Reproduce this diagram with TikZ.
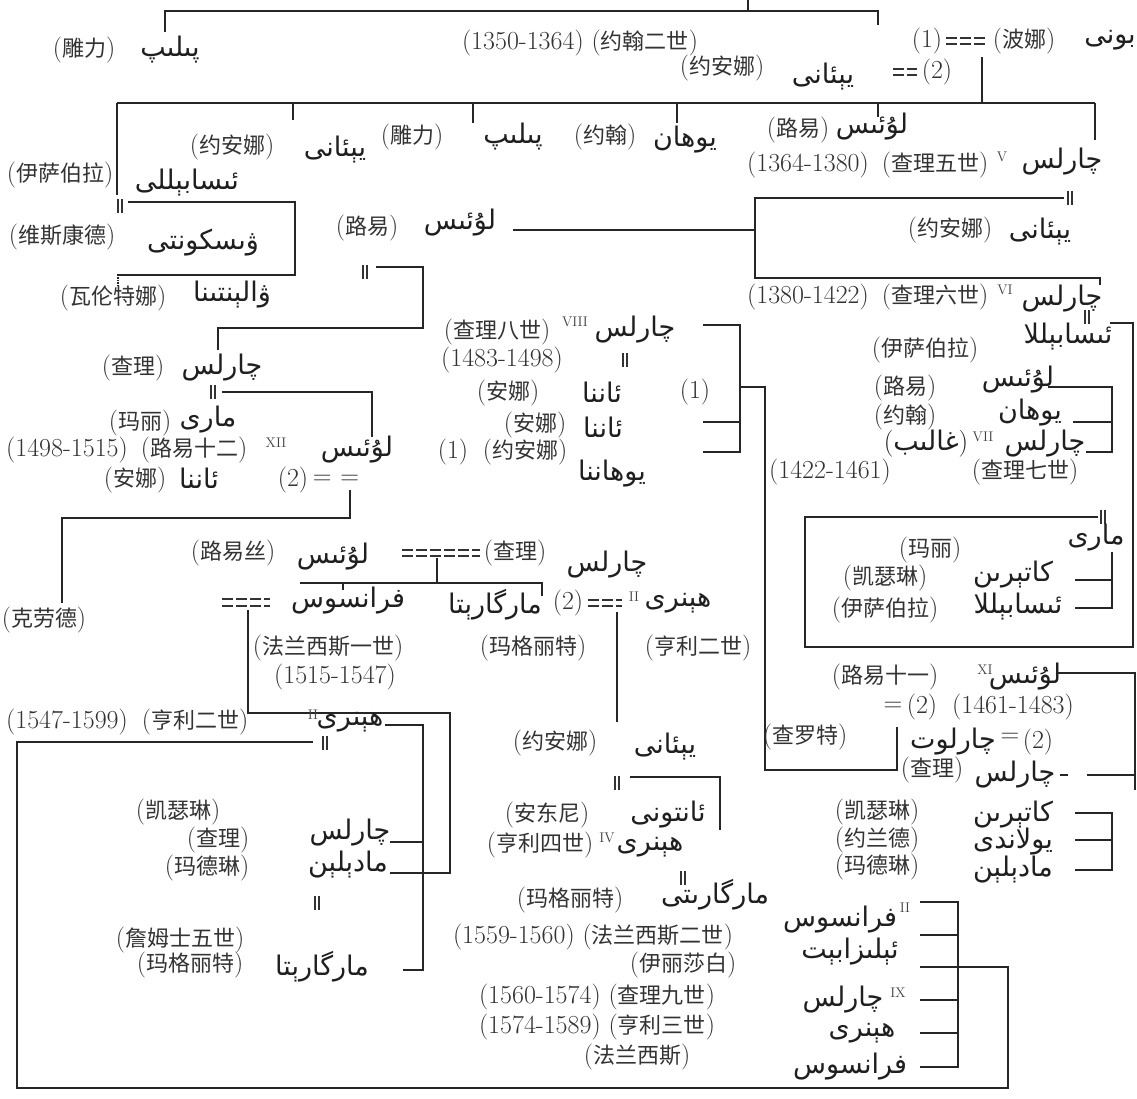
\documentclass[tikz,border=0pt]{standalone}
\usepackage{fontspec}
\newfontfamily\cjkf{Noto Sans CJK SC}
\newfontfamily\arf[Script=Arabic]{DejaVu Sans}
\TeXXeTstate=1
\newcommand\C[1]{{\cjkf\fontsize{22}{26}\selectfont #1}}
\newcommand\U[1]{{\arf\beginR #1\endR}}
\tikzset{
  zh/.style={font=\fontsize{26}{28}\selectfont, text=black!80, inner sep=0pt},
  ug/.style={font=\fontsize{27}{30}\selectfont, text=black!88, inner sep=0pt},
  rn/.style={font=\fontsize{14}{15}\selectfont, text=black!75, inner sep=0pt},
  ln/.style={line width=1.4pt, black!85},
  dbl/.style={line width=1.3pt, black!80, dash pattern=on 11pt off 3pt},
  mar/.pic={\draw[line width=1.1pt,black!80] (-2,-7)--(-2,7) (2,-7)--(2,7);}
}
\begin{document}
\begin{tikzpicture}[x=1pt,y=-1pt]
\useasboundingbox (0,0) rectangle (1137,1099);
\fill[white] (0,0) rectangle (1137,1099);
% ---------- top: John II ----------
\draw[ln] (748,0)--(748,11);
\draw[ln] (165,32)--(165,11)--(878,11)--(878,25);
\node[zh] (diao1) at (84,50) {(\C{雕力})};
\node[ug] (pilip1) at (170,50) {\U{پىلىپ}};
\node[zh] (john2) at (580,43) {(1350-1364) (\C{约翰二世})};
\node[zh] (one1) at (927,41) {(1)};
\draw[dbl] (946,38)--(986,38) (946,44)--(986,44);
\node[zh] (bona) at (1024,41) {(\C{波娜})};
\node[ug] (bonne) at (1110,40) {\U{بونى}};
\node[zh] (yan1) at (722,68) {(\C{约安娜})};
\node[ug] (jeanne1) at (823,77) {\U{يېئانى}};
\draw[dbl] (893,69)--(917,69) (893,75)--(917,75);
\node[zh] (two1) at (937,72) {(2)};
\draw[ln] (982,57)--(982,103);
\draw[ln] (117,103)--(1095,103);
\draw[ln] (293,103)--(293,120) (473,103)--(473,123) (677,103)--(677,123) (878,103)--(878,117) (1095,103)--(1095,140);
% ---------- children of John II ----------
\node[zh] (yan2) at (232,147) {(\C{约安娜})};
\node[ug] (jeanne2) at (335,150) {\U{يېئانى}};
\node[zh] (diao2) at (412,137) {(\C{雕力})};
\node[ug] (pilip2) at (513,137) {\U{پىلىپ}};
\node[zh] (yuehan1) at (605,137) {(\C{约翰})};
\node[ug] (yohan1) at (685,140) {\U{يوھان}};
\node[zh] (luyi1) at (798,130) {(\C{路易})};
\node[ug] (louis1) at (872,127) {\U{لۇئىس}};
\node[zh] (d5) at (808,165) {(1364-1380)};
\node[zh] (cl5) at (935,165) {(\C{查理五世})};
\node[rn] (r5) at (1002,157) {V};
\node[ug] (charles5) at (1062,162) {\U{چارلس}};
% ---------- Isabelle / Visconti ----------
\draw[ln] (117,103)--(117,195);
\node[zh] (isa1) at (60,175) {(\C{伊萨伯拉})};
\node[ug] (isab1) at (187,183) {\U{ئىسابېللى}};
\pic at (120,206) {mar};
\draw[ln] (128,202)--(295,202)--(295,275)--(117,275);
\draw[ln, densely dotted] (118,275)--(118,286);
\node[zh] (vis1) at (62,237) {(\C{维斯康德})};
\node[ug] (vis2) at (203,243) {\U{ۋىسكونتى}};
\node[zh] (val1) at (113,298) {(\C{瓦伦特娜})};
\node[ug] (val2) at (232,295) {\U{ۋالېنتىنا}};
% ---------- Louis d'Orleans ----------
\node[zh] (luyi2) at (367,228) {(\C{路易})};
\node[ug] (louis2) at (460,223) {\U{لۇئىس}};
\draw[ln] (513,230)--(755,230);
\pic at (365,272) {mar};
\draw[ln] (376,267)--(423,267)--(423,328)--(218,328)--(218,350);
% ---------- Charles V marriage ----------
\pic at (1070,198) {mar};
\draw[ln] (1064,198)--(755,198)--(755,278)--(1100,278)--(1100,285);
\node[zh] (yan3) at (950,230) {(\C{约安娜})};
\node[ug] (jeanne3) at (1040,232) {\U{يېئانى}};
% ---------- Charles VI ----------
\node[zh] (d6) at (808,297) {(1380-1422)};
\node[zh] (cl6) at (935,297) {(\C{查理六世})};
\node[rn] (r6) at (1005,290) {VI};
\node[ug] (charles6) at (1062,299) {\U{چارلس}};
\pic at (1087,317) {mar};
\node[ug] (isab2) at (1068,337) {\U{ئىسابېللا}};
\draw[ln] (1110,323)--(1133,323)--(1133,647)--(805,647)--(805,517)--(1098,517);
\node[zh] (isa2) at (925,350) {(\C{伊萨伯拉})};
\node[zh] (luyi3) at (905,388) {(\C{路易})};
\node[ug] (louis3) at (1018,380) {\U{لۇئىس}};
\node[zh] (yuehan2) at (905,417) {(\C{约翰})};
\node[ug] (yohan2) at (1030,413) {\U{يوھان}};
\node[ug] (ghalib) at (926,444) {(\U{غالىب})};
\node[rn] (r7) at (983,437) {VII};
\node[ug] (charles7) at (1045,444) {\U{چارلس}};
\draw[ln] (1048,387)--(1112,387)--(1112,452)--(1086,452) (1073,422)--(1112,422);
\node[zh] (d7) at (830,472) {(1422-1461)};
\node[zh] (cl7) at (1025,472) {(\C{查理七世})};
\pic at (1103,517) {mar};
\node[ug] (marie1) at (1096,538) {\U{مارى}};
\node[zh] (mali1) at (930,550) {(\C{玛丽})};
\node[zh] (kai1) at (885,578) {(\C{凯瑟琳})};
\node[ug] (kat1) at (1013,575) {\U{كاتېرىن}};
\node[zh] (isa3) at (885,610) {(\C{伊萨伯拉})};
\node[ug] (isab3) at (1018,607) {\U{ئىسابېللا}};
\draw[ln] (1112,552)--(1112,608)--(1075,608) (1075,580)--(1112,580);
% ---------- Louis XI ----------
\node[zh] (luyi11) at (885,677) {(\C{路易十一})};
\node[rn] (r11) at (985,670) {XI};
\node[ug] (louis11) at (1025,677) {\U{لۇئىس}};
\draw[ln] (1057,673)--(1135,673)--(1135,790);
\node[zh] (eq1) at (893,707) {=};
\node[zh] (two2) at (922,707) {(2)};
\node[zh] (d11) at (1013,707) {(1461-1483)};
\node[zh] (chaluo) at (805,737) {(\C{查罗特})};
\node[ug] (charlotte) at (953,742) {\U{چارلوت}};
\node[zh] (eq2) at (1010,738) {=};
\node[zh] (two3) at (1038,742) {(2)};
\draw[ln] (740,387)--(765,387)--(765,770)--(897,770)--(897,727);
\node[zh] (chali2) at (932,770) {(\C{查理})};
\node[ug] (charles8b) at (1015,775) {\U{چارلس}};
\draw[ln] (1060,775)--(1068,775) (1087,775)--(1135,775);
\node[zh] (kai2) at (877,812) {(\C{凯瑟琳})};
\node[ug] (kat2) at (1013,815) {\U{كاتېرىن}};
\node[zh] (yuelan) at (877,840) {(\C{约兰德})};
\node[ug] (yol) at (1013,842) {\U{يولاندى}};
\node[zh] (made1) at (877,867) {(\C{玛德琳})};
\node[ug] (mad1) at (1013,870) {\U{مادېلېن}};
\draw[ln] (1075,813)--(1112,813)--(1112,870)--(1075,870) (1075,840)--(1112,840);
% ---------- Charles VIII ----------
\node[zh] (cl8) at (497,332) {(\C{查理八世})};
\node[rn] (r8) at (575,322) {VIII};
\node[ug] (charles8) at (635,330) {\U{چارلس}};
\node[zh] (d8) at (502,360) {(1483-1498)};
\pic at (625,360) {mar};
\node[zh] (anna1) at (508,393) {(\C{安娜})};
\node[ug] (anne1) at (602,392) {\U{ئاننا}};
\node[zh] (anna2) at (535,425) {(\C{安娜})};
\node[ug] (anne2) at (603,427) {\U{ئاننا}};
\node[zh] (one2) at (453,452) {(1)};
\node[zh] (yan4) at (525,452) {(\C{约安娜})};
\node[ug] (johanna) at (612,474) {\U{يوھاننا}};
\node[zh] (one3) at (695,392) {(1)};
\draw[ln] (703,325)--(740,325)--(740,452)--(703,452) (703,422)--(740,422);
% ---------- Louis XII ----------
\node[zh] (chali1) at (133,368) {(\C{查理})};
\node[ug] (charlesO) at (222,368) {\U{چارلس}};
\pic at (213,392) {mar};
\draw[ln] (222,392)--(372,392)--(372,437);
\node[zh] (mali2) at (140,423) {(\C{玛丽})};
\node[ug] (marie2) at (208,420) {\U{مارى}};
\node[zh] (d12) at (67,450) {(1498-1515)};
\node[zh] (luyi12) at (194,450) {(\C{路易十二})};
\node[rn] (r12) at (276,443) {XII};
\node[ug] (louis12) at (357,450) {\U{لۇئىس}};
\node[zh] (anna3) at (135,480) {(\C{安娜})};
\node[ug] (anne3) at (199,478) {\U{ئاننا}};
\node[zh] (two4) at (293,480) {(2)};
\node[zh] (eq3) at (336,480) {=\,\,=};
\draw[ln] (350,490)--(350,518)--(62,518)--(62,603);
\node[zh] (kelaode) at (44,620) {(\C{克劳德})};
% ---------- Angouleme ----------
\node[zh] (luyisi) at (233,553) {(\C{路易丝})};
\node[ug] (louise) at (333,557) {\U{لۇئىس}};
\draw[dbl] (402,550)--(480,550) (402,556)--(480,556);
\node[zh] (chali3) at (515,553) {(\C{查理})};
\node[ug] (charlesA) at (607,565) {\U{چارلس}};
\draw[ln] (437,558)--(437,583) (300,583)--(542,583)--(542,596) (343,583)--(343,590);
\draw[dbl] (222,599)--(270,599) (222,606)--(270,606);
\node[ug] (fr1) at (348,601) {\U{فرانسوس}};
\node[ug] (marg1) at (495,605) {\U{مارگارېتا}};
\node[zh] (two5) at (568,603) {(2)};
\draw[dbl] (588,600)--(622,600) (588,606)--(622,606);
\node[rn] (r2a) at (634,597) {II};
\node[ug] (henri2n) at (678,603) {\U{ھېنرى}};
\node[zh] (fa1) at (328,648) {(\C{法兰西斯一世})};
\node[zh] (d15) at (335,677) {(1515-1547)};
\node[zh] (mag1) at (533,648) {(\C{玛格丽特})};
\node[zh] (hen2n) at (698,648) {(\C{亨利二世})};
\draw[ln] (617,612)--(617,722);
\draw[ln] (248,610)--(248,713)--(450,713)--(450,873)--(390,873);
% ---------- Henri II ----------
\node[zh] (d2) at (67,722) {(1547-1599)};
\node[zh] (hen2) at (195,722) {(\C{亨利二世})};
\node[rn] (r2b) at (313,715) {II};
\node[ug] (henri2) at (350,722) {\U{ھېنرى}};
\draw[ln] (385,725)--(423,725)--(423,970)--(403,970) (390,842)--(423,842);
\pic at (325,743) {mar};
\draw[ln] (313,742)--(17,742)--(17,1088)--(1008,1088)--(1008,967)--(958,967);
\node[zh] (kai3) at (178,812) {(\C{凯瑟琳})};
\node[ug] (charlesB) at (350,833) {\U{چارلس}};
\node[zh] (chali4) at (218,840) {(\C{查理})};
\node[zh] (made2) at (207,868) {(\C{玛德琳})};
\node[ug] (mad2) at (348,865) {\U{مادېلېن}};
\pic at (317,903) {mar};
\node[zh] (james) at (180,940) {(\C{詹姆士五世})};
\node[zh] (mag2) at (190,965) {(\C{玛格丽特})};
\node[ug] (marg2) at (322,967) {\U{مارگارېتا}};
% ---------- Jeanne d'Albret ----------
\node[zh] (yan5) at (555,743) {(\C{约安娜})};
\node[ug] (jeanne5) at (665,747) {\U{يېئانى}};
\pic at (617,783) {mar};
\draw[ln] (630,777)--(720,777)--(720,830);
\node[zh] (andong) at (547,815) {(\C{安东尼})};
\node[ug] (antoine) at (668,815) {\U{ئانتونى}};
\node[zh] (hen4) at (540,845) {(\C{亨利四世})};
\node[rn] (r4) at (607,838) {IV};
\node[ug] (henri4) at (650,847) {\U{ھېنرى}};
\pic at (683,878) {mar};
\node[zh] (mag3) at (570,900) {(\C{玛格丽特})};
\node[ug] (marg3) at (715,895) {\U{مارگارىتى}};
\node[zh] (fa2) at (593,937) {(1559-1560) (\C{法兰西斯二世})};
\node[zh] (yili) at (683,965) {(\C{伊丽莎白})};
\node[zh] (cl9) at (597,997) {(1560-1574) (\C{查理九世})};
\node[zh] (hen3) at (597,1027) {(1574-1589) (\C{亨利三世})};
\node[zh] (fa3) at (637,1057) {(\C{法兰西斯})};
\node[ug] (fr2) at (840,920) {\U{فرانسوس}};
\node[rn] (r2c) at (905,908) {II};
\node[ug] (eliz) at (850,952) {\U{ئېلىزابېت}};
\node[ug] (charles9) at (843,1000) {\U{چارلس}};
\node[rn] (r9) at (898,993) {IX};
\node[ug] (henri3) at (862,1033) {\U{ھېنرى}};
\node[ug] (fr3) at (850,1067) {\U{فرانسوس}};
\draw[ln] (920,902)--(958,902)--(958,1067)--(920,1067) (920,935)--(958,935) (920,967)--(958,967) (920,1000)--(958,1000) (920,1033)--(958,1033);
\end{tikzpicture}
\end{document}
